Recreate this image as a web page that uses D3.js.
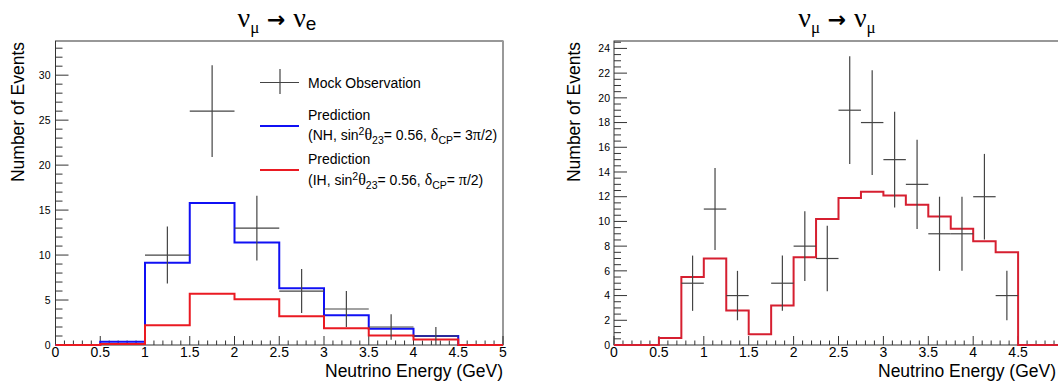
<!DOCTYPE html>
<html>
<head>
<meta charset="utf-8">
<script src="https://cdn.jsdelivr.net/npm/d3@7"></script>
<style>
  body { margin: 0; background: #fff; }
  svg { display: block; }
  text { font-family: "Liberation Sans", Arial, Helvetica, sans-serif; fill: #000; }
</style>
</head>
<body>
<div id="chart"></div>
<script>
// nu_mu -> nu_e : 0.5 GeV bins
const edgesE = [0, 0.5, 1, 1.5, 2, 2.5, 3, 3.5, 4, 4.5, 5];
const nhE  = [0, 0.35, 9.15, 15.8, 11.4, 6.3, 3.3, 1.8, 1.0, 0];
const ihE  = [0, 0.1, 2.2, 5.7, 5.1, 3.2, 1.85, 1.05, 0.6, 0];
const obsE = [0, 0, 10, 26, 13, 6, 4, 2, 1, 0];

// nu_mu -> nu_mu : 0.25 GeV bins
const edgesMu = [0, 0.25, 0.5, 0.75, 1, 1.25, 1.5, 1.75, 2, 2.25, 2.5,
                 2.75, 3, 3.25, 3.5, 3.75, 4, 4.25, 4.5, 4.75, 5];
const predMu = [0, 0, 0.57, 5.5, 7.0, 2.8, 0.87, 3.2, 7.1, 10.2,
                11.9, 12.4, 12.1, 11.35, 10.4, 9.4, 8.4, 7.5, 0, 0];
const obsMu  = [0, 0, 0, 5, 11, 4, 0, 5, 8, 7,
                19, 18, 15, 13, 9, 9, 12, 4, 0, 0];

const xTicks = [0, 0.5, 1, 1.5, 2, 2.5, 3, 3.5, 4, 4.5, 5];
const xTickLabels = ["0", "0.5", "1", "1.5", "2", "2.5", "3", "3.5", "4", "4.5", "5"];
const yTicksE = [0, 5, 10, 15, 20, 25, 30];
const yTicksMu = [0, 2, 4, 6, 8, 10, 12, 14, 16, 18, 20, 22, 24];

const width = 1058, height = 381;
const blue = "#1010f4", red = "#ea1a22", crimson = "#d61f30";
const greek = "'Liberation Serif', 'DejaVu Serif', serif";

const svg = d3.select("#chart").append("svg")
  .attr("width", width).attr("height", height);

function histPath(edges, vals) {
  const pts = [];
  vals.forEach((v, i) => { pts.push([edges[i], v]); pts.push([edges[i + 1], v]); });
  return pts;
}

function panel(o) {
  const x = d3.scaleLinear().domain([0, 5]).range([o.left, o.right]);
  const y = d3.scaleLinear().domain([0, o.ymax]).range([345, 41]);
  const g = svg.append("g");

  // frame
  g.append("rect")
    .attr("x", o.left).attr("y", y(o.ymax))
    .attr("width", o.right - o.left).attr("height", y(0) - y(o.ymax))
    .attr("fill", "none").attr("stroke", "#333").attr("stroke-width", 1);
  g.append("line")
    .attr("x1", o.right).attr("x2", o.right).attr("y1", y(o.ymax)).attr("y2", y(0))
    .attr("stroke", "#999").attr("stroke-width", 2);

  // y ticks (inside, ROOT style)
  const yMinor = d3.range(0, o.ymax, o.yMinorStep);
  g.append("g").selectAll("line").data(yMinor).join("line")
    .attr("x1", o.left).attr("x2", d => o.left + (o.yTicks.includes(+d.toFixed(3)) ? 13 : 7))
    .attr("y1", d => y(d)).attr("y2", d => y(d))
    .attr("stroke", "#333").attr("stroke-width", 1);
  g.append("g").selectAll("text").data(o.yTicks).join("text")
    .attr("x", o.left - o.yLabelGap).attr("y", d => y(d)).attr("dy", "0.36em")
    .attr("text-anchor", "end").attr("font-size", 10.5).text(d => d);

  // x ticks (labels past the picture edge are left out, as in the reference)
  const xMinor = d3.range(0, 5.001, 0.1);
  g.append("g").selectAll("line").data(xMinor).join("line")
    .attr("x1", d => x(d)).attr("x2", d => x(d))
    .attr("y1", y(0)).attr("y2", (d, i) => y(0) - (i % 5 === 0 ? 9 : 4.5))
    .attr("stroke", "#333").attr("stroke-width", 1);
  g.append("g").selectAll("text")
    .data(xTicks.map((d, i) => ({ d, label: xTickLabels[i] })).filter(t => x(t.d) < width - 4))
    .join("text")
    .attr("x", t => x(t.d)).attr("y", 357)
    .attr("text-anchor", "middle").attr("font-size", 14)
    .text(t => t.label);

  // axis titles
  g.append("text")
    .attr("x", Math.min(o.right, width - 2)).attr("y", 377).attr("text-anchor", "end")
    .attr("font-size", 17.5).text("Neutrino Energy (GeV)");
  g.append("text")
    .attr("transform", `translate(${o.ytitleX},42) rotate(-90)`)
    .attr("text-anchor", "end").attr("font-size", 17.5).text("Number of Events");

  // histograms
  const line = d3.line().x(d => x(d[0])).y(d => y(d[1]));
  o.hists.forEach(h => {
    g.append("path").attr("d", line(histPath(o.edges, h.vals)))
      .attr("fill", "none").attr("stroke", h.color).attr("stroke-width", 2);
  });

  // mock observation with sqrt(N) errors
  const pts = o.obs.map((v, i) => ({ v, lo: o.edges[i], hi: o.edges[i + 1] })).filter(d => d.v > 0);
  const eg = g.append("g").attr("stroke", "#444").attr("stroke-width", 1.2);
  eg.selectAll(".h").data(pts).join("line").attr("class", "h")
    .attr("x1", d => x(d.lo)).attr("x2", d => x(d.hi))
    .attr("y1", d => y(d.v)).attr("y2", d => y(d.v));
  eg.selectAll(".v").data(pts).join("line").attr("class", "v")
    .attr("x1", d => x((d.lo + d.hi) / 2)).attr("x2", d => x((d.lo + d.hi) / 2))
    .attr("y1", d => y(d.v + Math.sqrt(d.v))).attr("y2", d => y(d.v - Math.sqrt(d.v)));

  // title
  const t = svg.append("text").attr("x", o.titleX).attr("y", 27)
    .attr("text-anchor", "middle").attr("font-size", 28);
  t.append("tspan").attr("font-family", greek).text("ν");
  t.append("tspan").attr("font-family", greek).attr("font-size", 17).attr("dy", 6).text("μ");
  t.append("tspan").attr("font-family", "'DejaVu Sans', sans-serif").attr("font-size", 22)
    .attr("font-weight", "bold").attr("dy", -6).text(" → ");
  t.append("tspan").attr("font-family", greek).text("ν");
  if (o.sub === "e") {
    t.append("tspan").attr("font-size", 19).attr("dy", 3).text("e");
  } else {
    t.append("tspan").attr("font-family", greek).attr("font-size", 17).attr("dy", 6).text("μ");
  }
  return { x, y };
}

panel({
  left: 55.5, right: 503, ymax: 33.8, yMinorStep: 1, yTicks: yTicksE, yLabelGap: 5,
  edges: edgesE, obs: obsE, ytitleX: 23.5, titleX: 277, sub: "e",
  hists: [{ vals: nhE, color: blue }, { vals: ihE, color: red }]
});

panel({
  left: 614, right: 1063, ymax: 24.6, yMinorStep: 0.5, yTicks: yTicksMu, yLabelGap: 4,
  edges: edgesMu, obs: obsMu, ytitleX: 580, titleX: 837, sub: "mu",
  hists: [{ vals: predMu, color: crimson }]
});

// legend (left panel)
const lg = svg.append("g").attr("font-size", 14);
lg.append("line").attr("x1", 260).attr("x2", 299).attr("y1", 82.5).attr("y2", 82.5)
  .attr("stroke", "#444").attr("stroke-width", 1.2);
lg.append("line").attr("x1", 280).attr("x2", 280).attr("y1", 69).attr("y2", 94)
  .attr("stroke", "#444").attr("stroke-width", 1.2);
lg.append("text").attr("x", 308).attr("y", 87.5).text("Mock Observation");

function richText(sel, x, y, parts) {
  const t = sel.append("text").attr("x", x).attr("y", y);
  let shift = 0;
  parts.forEach(p => {
    const target = p.s === "sup" ? -5 : p.s === "sub" ? 4 : 0;
    const ts = t.append("tspan").attr("dy", target - shift).text(p.t);
    if (p.s) ts.attr("font-size", 10.5);
    if (p.g) ts.attr("font-family", greek).attr("font-size", p.s ? 10.5 : 16);
    shift = target;
  });
  return t;
}

const legendRows = [
  { y: 119.5, line: 126, color: blue, hier: "NH", num: "3" },
  { y: 164, line: 170, color: red, hier: "IH", num: "" }
];
legendRows.forEach(r => {
  lg.append("line").attr("x1", 260).attr("x2", 299).attr("y1", r.line).attr("y2", r.line)
    .attr("stroke", r.color).attr("stroke-width", 2);
  lg.append("text").attr("x", 308).attr("y", r.y).text("Prediction");
  richText(lg, 308, r.y + 20.5, [
    { t: `(${r.hier}, sin` }, { t: "2", s: "sup" }, { t: "θ", g: true }, { t: "23", s: "sub" },
    { t: "= 0.56, " }, { t: "δ", g: true }, { t: "CP", s: "sub" }, { t: "= " + r.num },
    { t: "π", g: true }, { t: "/2)" }
  ]);
});
</script>
</body>
</html>
